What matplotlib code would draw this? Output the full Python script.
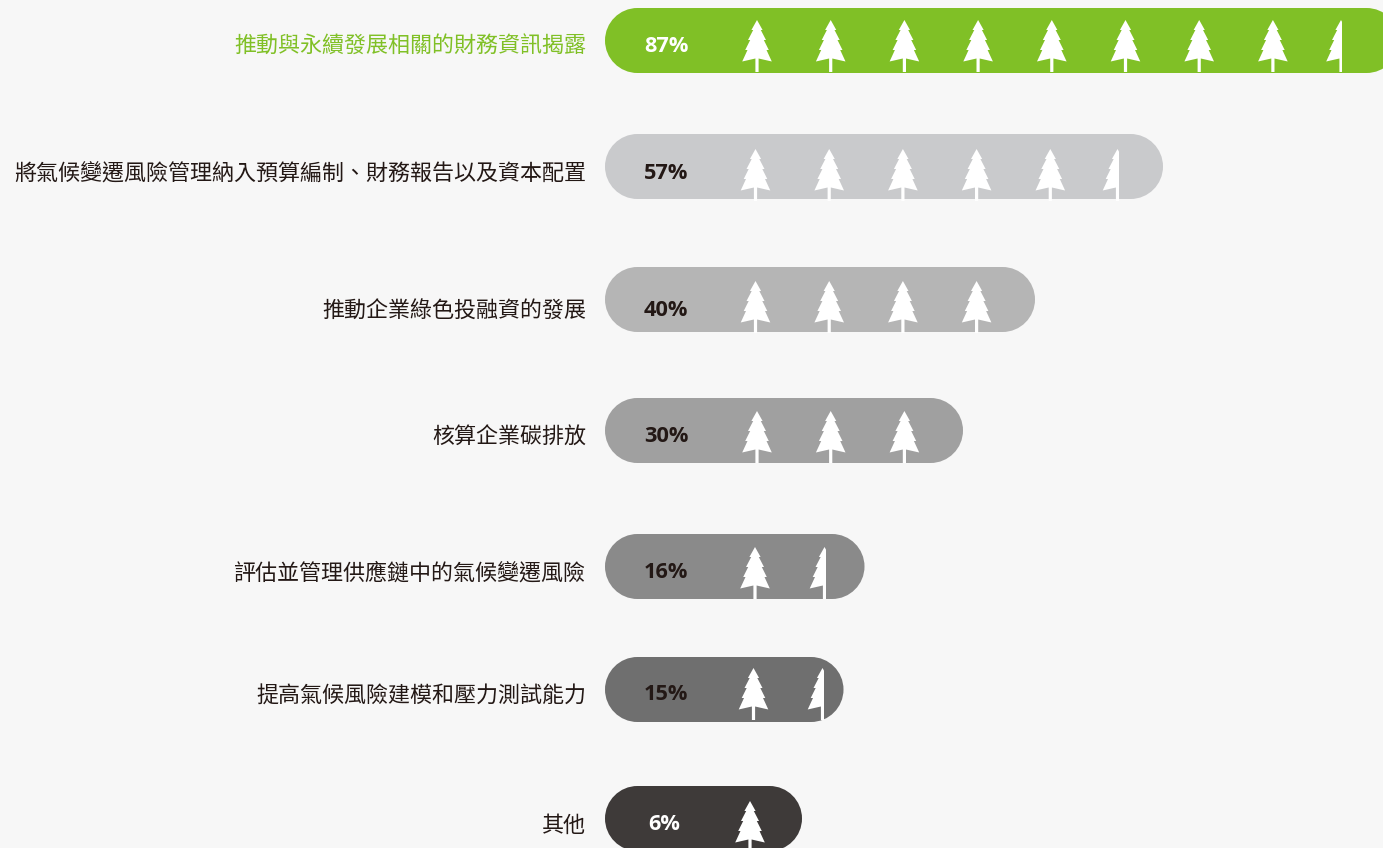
import matplotlib
matplotlib.use('Agg')
import matplotlib.pyplot as plt
from matplotlib.patches import PathPatch, Polygon, Rectangle
from matplotlib.path import Path

plt.rcParams['font.family'] = ['Noto Sans CJK TC', 'DejaVu Sans']

labels = ['推動與永續發展相關的財務資訊揭露',
          '將氣候變遷風險管理納入預算編制、財務報告以及資本配置',
          '推動企業綠色投融資的發展',
          '核算企業碳排放',
          '評估並管理供應鏈中的氣候變遷風險',
          '提高氣候風險建模和壓力測試能力',
          '其他']
values = [87, 57, 40, 30, 16, 15, 6]
# 條長不與數值成正比，直接從圖上量
bar_lengths = [794, 558, 430, 358, 259.5, 238.5, 197]
full_trees = [8, 5, 4, 3, 1, 1, 1]
has_half_tree = [True, True, False, False, True, True, False]

colors = ['#80c026', '#c9cacc', '#b5b5b5', '#a0a0a0', '#8a8a8a', '#6f6f6f', '#3e3a39']
label_colors = ['#80c026'] + ['#231815'] * 6
value_colors = ['#ffffff', '#231815', '#231815', '#231815', '#231815', '#231815', '#ffffff']

BG = '#f7f7f7'
BAR_X = 605
BAR_H = 65
TREE_STEP = 73.7
bar_tops = [8, 134, 267, 398, 534, 657, 786]
label_ys = [47, 175, 312, 438, 574, 697, 826]
value_ys = [46, 173.6, 311, 437, 573, 695, 825]
tree_x0 = [757, 755.5, 755.5, 757, 755, 753.5, 750]
tree_tops = [20, 149, 281, 411, 547, 668, 801]
half_right = [1342, 1118.5, None, None, 825.5, 823.5, None]
value_x = [666, 666, 666, 666, 666, 666, 664]

# 半棵樹的輪廓，(dx, dy)，相對樹頂
half_outline = [(0, 0), (-5.6, 10), (-3.8, 10), (-9, 20), (-6.8, 20), (-11.8, 30),
                (-9.5, 30), (-14.8, 41.5), (-1.6, 38.5), (-1.6, 52)]
tree_outline = half_outline + [(-dx, dy) for dx, dy in reversed(half_outline[1:])]


def pill_path(x, y, w, h):
    # 膠囊形，四段貝茲曲線
    r = h / 2
    k = 0.5523 * r
    verts = [(x + r, y), (x + w - r, y),
             (x + w - r + k, y), (x + w, y + r - k), (x + w, y + r),
             (x + w, y + r + k), (x + w - r + k, y + h), (x + w - r, y + h),
             (x + r, y + h),
             (x + r - k, y + h), (x, y + r + k), (x, y + r),
             (x, y + r - k), (x + r - k, y), (x + r, y),
             (x + r, y)]
    codes = [Path.MOVETO, Path.LINETO,
             Path.CURVE4, Path.CURVE4, Path.CURVE4,
             Path.CURVE4, Path.CURVE4, Path.CURVE4,
             Path.LINETO,
             Path.CURVE4, Path.CURVE4, Path.CURVE4,
             Path.CURVE4, Path.CURVE4, Path.CURVE4,
             Path.CLOSEPOLY]
    return Path(verts, codes)


def draw_tree(ax, cx, top, clip_right=None):
    pts = [(cx + dx, top + dy) for dx, dy in tree_outline]
    tree = Polygon(pts, closed=True, facecolor='white', edgecolor='none', zorder=3)
    ax.add_patch(tree)
    if clip_right is not None:
        clip = Rectangle((cx - 20, top - 2), clip_right - cx + 20, 60, transform=ax.transData)
        tree.set_clip_path(clip)


fig = plt.figure(figsize=(13.83, 8.48), dpi=100, facecolor=BG)
ax = fig.add_axes([0, 0, 1, 1])
ax.set_xlim(0, 1383)
ax.set_ylim(848, 0)
ax.axis('off')

for i, v in enumerate(values):
    bar = PathPatch(pill_path(BAR_X, bar_tops[i], bar_lengths[i], BAR_H),
                    facecolor=colors[i], edgecolor='none', zorder=2)
    ax.add_patch(bar)
    ax.text(586, label_ys[i], labels[i], ha='right', va='center', fontsize=15.85,
            fontweight='medium', color=label_colors[i])
    ax.text(value_x[i], value_ys[i], '%d%%' % v, ha='center', va='center', fontsize=15.7,
            fontweight='bold', family='Open Sans', color=value_colors[i], zorder=4)
    for n in range(full_trees[i]):
        draw_tree(ax, tree_x0[i] + n * TREE_STEP, tree_tops[i])
    if has_half_tree[i]:
        draw_tree(ax, half_right[i] - 1, tree_tops[i], clip_right=half_right[i])

fig.savefig('out.png', dpi=100, facecolor=BG)
plt.close(fig)
